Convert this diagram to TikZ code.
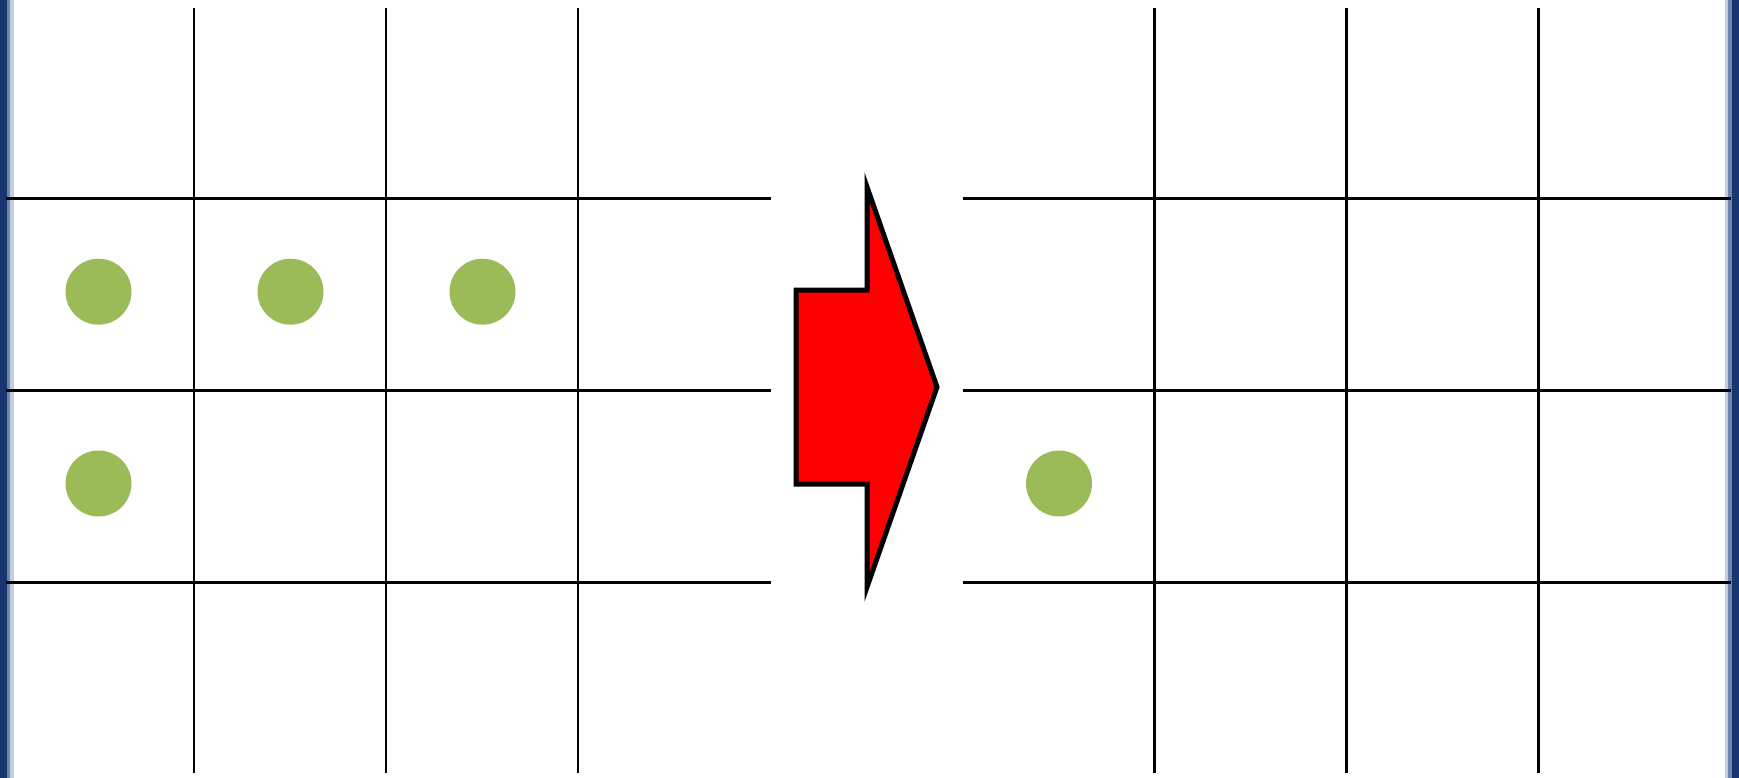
\documentclass[tikz,border=0pt]{standalone}
\begin{document}
\begin{tikzpicture}[x=1pt,y=-1pt,
  gridline/.style={line width=2.4pt,black},
  dot/.style={circle,fill=dotgreen,minimum size=66pt,inner sep=0pt},
  bigarrow/.style={fill=red,draw=black,line width=5pt,miter limit=20}]
\definecolor{dotgreen}{HTML}{9BBB59}
\definecolor{bdark}{HTML}{17366E}
\definecolor{bmid}{HTML}{6F85B0}
\definecolor{blight}{HTML}{C3CDE0}
\useasboundingbox (0,0) rectangle (1739,778);
\fill[white] (0,0) rectangle (1739,778);
% borders
\fill[bdark] (0,0) rectangle (7,778);
\fill[bmid] (7,0) rectangle (10,778);
\fill[blight] (10,0) rectangle (14,778);
\fill[blight] (1725,0) rectangle (1728,778);
\fill[bmid] (1728,0) rectangle (1732,778);
\fill[bdark] (1732,0) rectangle (1739,778);
% left grid
\foreach \x in {194,386,578} \draw[gridline] (\x,8) -- (\x,773);
\foreach \y in {198.7,390.5,582.5} \draw[gridline] (6,\y) -- (770.5,\y);
% right grid
\foreach \x in {1154.5,1346.5,1538.5} \draw[gridline] (\x,8) -- (\x,773);
\foreach \y in {198.7,390.5,582.5} \draw[gridline] (963,\y) -- (1731,\y);
% dots
\node[dot] (d1) at (98.5,291.7) {};
\node[dot] (d2) at (290.5,291.7) {};
\node[dot] (d3) at (482.5,291.7) {};
\node[dot] (d4) at (98.5,483.5) {};
\node[dot] (d5) at (1059,483.5) {};
% arrow
\draw[bigarrow] (796,290) -- (867,290) -- (867,187) -- (937,387) -- (867,587) -- (867,484) -- (796,484) -- cycle;
\end{tikzpicture}
\end{document}
